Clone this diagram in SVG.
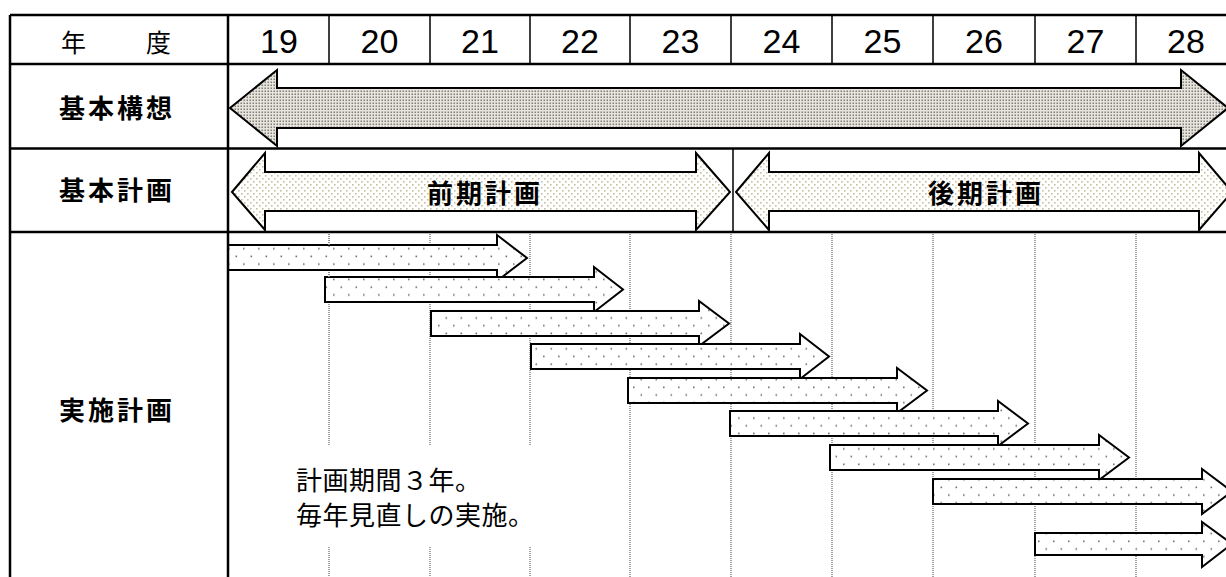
<svg xmlns="http://www.w3.org/2000/svg" width="1226" height="577" viewBox="0 0 1226 577">
<defs>
<pattern id="pDense" width="3" height="3" patternUnits="userSpaceOnUse">
<rect width="3" height="3" fill="#e6e4dc"/>
<rect x="0.5" y="0.5" width="1.5" height="1.5" fill="#807f78"/>
</pattern>
<pattern id="pLight" width="6" height="6" patternUnits="userSpaceOnUse">
<rect width="6" height="6" fill="#ffffff"/>
<rect x="1" y="1" width="1.6" height="1.6" fill="#c8bf9e"/>
<rect x="4" y="4" width="1.6" height="1.6" fill="#c8bf9e"/>
</pattern>
<pattern id="pSparse" width="15" height="15.4" patternUnits="userSpaceOnUse">
<rect width="15" height="15.4" fill="#ffffff"/>
<rect x="3" y="1.5" width="1.6" height="1.6" fill="#707068"/>
<rect x="10.5" y="9.2" width="1.6" height="1.6" fill="#707068"/>
</pattern>
</defs>
<style>
.thick{stroke:#000;stroke-width:2.5;fill:none}
.thin{stroke:#000;stroke-width:1.5;fill:none}
.dot{stroke:#8a8a8a;stroke-width:1.6;stroke-dasharray:1 1;fill:none}
.ar{stroke:#000;stroke-width:2;stroke-linejoin:miter}
.lbl{font-family:"Noto Sans CJK JP","Noto Sans CJK SC",sans-serif;font-size:26px;font-weight:bold;letter-spacing:3px;fill:#000}
.num{font-family:"Liberation Sans",Arial,sans-serif;font-size:34px;fill:#000;text-anchor:middle}
.hd{font-family:"Noto Sans CJK JP",sans-serif;font-size:25px;fill:#000}
.note{font-family:"Noto Sans CJK JP",sans-serif;font-size:26px;letter-spacing:0.5px;fill:#000}
</style>
<rect width="1226" height="577" fill="#ffffff"/>

<g id="header">
<text class="hd" x="61" y="52">年</text>
<text class="hd" x="146" y="52">度</text>
<text class="num" x="279" y="53">19</text>
<text class="num" x="379.5" y="53">20</text>
<text class="num" x="480" y="53">21</text>
<text class="num" x="580" y="53">22</text>
<text class="num" x="680.5" y="53">23</text>
<text class="num" x="781.5" y="53">24</text>
<text class="num" x="882.5" y="53">25</text>
<text class="num" x="984" y="53">26</text>
<text class="num" x="1085.5" y="53">27</text>
<text class="num" x="1186" y="53">28</text>
</g>

<g id="grid">
<path class="dot" d="M329,232V445M329,547V577M430,232V445M430,547V577M530,232V445M530,547V577M630,232V577M731,232V577M832,232V577M933,232V577M1035,232V577M1136,232V577"/>
</g>

<g id="kihon-kousou">
<text class="lbl" x="59" y="118">基本構想</text>
<path class="ar" fill="url(#pDense)" d="M230,108L277,70V88H1181V70L1228,108L1181,146V128H277V146Z"/>
</g>

<g id="kihon-keikaku">
<text class="lbl" x="59" y="200">基本計画</text>
<g id="zenki">
<path class="ar" fill="url(#pLight)" d="M232,192L265,153V172H696V153L730,192L696,230V211H265V230Z"/>
<text class="lbl" x="427" y="203">前期計画</text>
</g>
<g id="kouki">
<path class="ar" fill="url(#pLight)" d="M736,192L769,153V172H1199V153L1232,192L1199,230V211H769V230Z"/>
<text class="lbl" x="928" y="203">後期計画</text>
</g>
</g>

<g id="jisshi-keikaku">
<text class="lbl" x="59" y="420">実施計画</text>
<g id="arrows">
<path class="ar" fill="url(#pSparse)" d="M228,245H497V235L527,258L497,281V270H228Z"/>
<path class="ar" fill="url(#pSparse)" d="M325,277H594V267L623,289.5L594,312V302H325Z"/>
<path class="ar" fill="url(#pSparse)" d="M431,311H699V301L729,323.5L699,346V336H431Z"/>
<path class="ar" fill="url(#pSparse)" d="M531,344H800V334L829,356.5L800,379V369H531Z"/>
<path class="ar" fill="url(#pSparse)" d="M628,378H897V368L927,390.5L897,413V403H628Z"/>
<path class="ar" fill="url(#pSparse)" d="M730,411H998V401L1028,423.5L998,446V436H730Z"/>
<path class="ar" fill="url(#pSparse)" d="M830,445H1099V435L1129,457.5L1099,480V470H830Z"/>
<path class="ar" fill="url(#pSparse)" d="M933,479H1202V469L1232,491.5L1202,514V504H933Z"/>
<path class="ar" fill="url(#pSparse)" d="M1035,533H1202V522L1232,544L1202,567V555H1035Z"/>
</g>
<g id="note">
<text class="note" x="296" y="490">計画期間３年。</text>
<text class="note" x="296" y="525">毎年見直しの実施。</text>
</g>
</g>

<g id="table-lines">
<path class="dot" d="M329,232V247M329,272V278"/>
<path class="thick" d="M10,15H1226M10,64H1226M10,148.5H1226M10,232H1226M10,15V577M228,15V577"/>
<path class="thin" d="M329,15V64M430,15V64M530,15V64M630,15V64M731,15V64M832,15V64M933,15V64M1035,15V64M1136,15V64M733,148.5V232"/>
</g>
</svg>
